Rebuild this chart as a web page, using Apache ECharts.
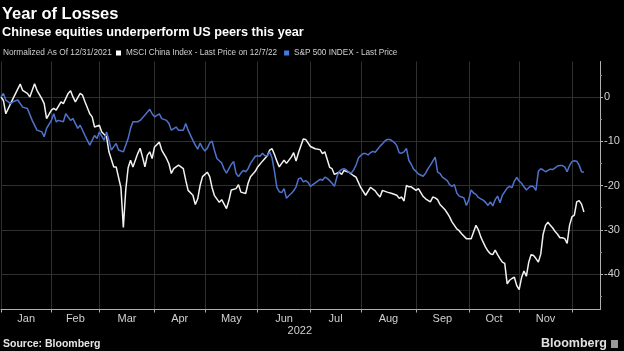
<!DOCTYPE html>
<html>
<head>
<meta charset="utf-8">
<script src="https://cdn.jsdelivr.net/npm/echarts@6/dist/echarts.min.js"></script>
<style>
html, body { margin: 0; padding: 0; background: #000; }
#chart { width: 624px; height: 351px; }
</style>
</head>
<body>
<div id="chart"></div>
<script>
// x = trading day counted from 12/31/2021 (= 0), weekdays only
var chinaDays = [0, 1, 2, 4, 5, 8, 9, 11, 12, 14, 15, 17, 18, 19, 21, 22, 23, 25, 26, 28, 29, 30, 31, 33, 34, 35, 37, 38, 39, 41, 42, 44, 45, 47, 48, 50, 51, 52, 53, 54, 55, 57, 58, 59, 60, 61, 62, 63, 64, 66, 67, 69, 70, 71, 72, 74, 76, 77, 78, 80, 81, 82, 83, 84, 86, 87, 88, 89, 91, 92, 94, 95, 96, 98, 99, 100, 102, 103, 104, 106, 107, 109, 111, 112, 113, 114, 115, 116, 117, 118, 119, 121, 122, 123, 124, 126, 127, 129, 131, 133, 134, 135, 137, 138, 139, 141, 142, 143, 145, 147, 148, 150, 152, 154, 156, 157, 158, 159, 161, 163, 165, 166, 167, 168, 169, 170, 171, 173, 174, 175, 176, 177, 179, 180, 181, 182, 183, 185, 186, 187, 188, 190, 191, 192, 194, 196, 197, 198, 199, 200, 201, 202, 203, 204, 205, 206, 207, 208, 209, 210, 211, 212, 213, 214, 215, 216, 217, 218, 219, 220, 221, 222, 223, 224, 225, 226, 227, 228, 229, 230, 231, 232, 233, 234, 235, 236, 237, 238, 239, 240, 241, 242, 243];
var chinaVals = [0, -0.8, -3.8, -1.5, -0.4, 2.9, 1.5, 0.8, 0, 3.0, 1.5, -0.4, -1.5, -4.9, -3.0, -2.6, -3.0, -1.1, -1.5, 0.8, 1.4, 0, -1.1, 0.8, 0.4, -1.1, -3.8, -4.5, -6.8, -6.4, -7.9, -9.0, -12.4, -15.8, -15.8, -20.5, -29.5, -21.0, -16.0, -14.3, -15.8, -12.8, -11.6, -13.6, -15.8, -13.2, -12.4, -13.9, -11.3, -10.2, -12.0, -13.9, -15.1, -17.3, -16.2, -15.4, -16.2, -18.8, -21.1, -22.2, -24.3, -23.0, -20.0, -18.0, -17.0, -18.0, -20.5, -22.3, -23.8, -23.2, -25.2, -23.4, -21.0, -20.7, -19.8, -21.5, -21.8, -19.5, -18.0, -16.8, -15.8, -14.5, -13.3, -12.0, -11.7, -13.0, -14.5, -15.8, -15.0, -14.3, -15.0, -13.6, -12.6, -14.5, -12.6, -9.5, -9.6, -11.2, -11.7, -11.9, -12.8, -12.4, -15.9, -16.2, -17.5, -17.0, -17.5, -16.6, -17.0, -17.8, -18.1, -20.5, -22.2, -20.4, -21.2, -22.0, -22.6, -21.1, -21.5, -21.8, -22.2, -22.9, -22.6, -23.5, -20.0, -20.3, -20.3, -21.1, -20.7, -21.6, -22.5, -23.0, -23.7, -22.6, -22.8, -23.2, -24.3, -25.4, -26.2, -27.1, -28.2, -29.8, -30.2, -30.9, -32.0, -32.0, -30.5, -29.0, -30.0, -31.6, -32.8, -33.9, -34.8, -35.4, -35.6, -34.6, -35.6, -36.5, -37.3, -37.6, -42.2, -41.4, -41.0, -40.7, -42.6, -43.5, -40.8, -39.3, -40.5, -37.3, -35.6, -35.8, -36.5, -37.3, -35.5, -31.0, -29.0, -28.3, -29.0, -29.6, -30.4, -31.0, -31.8, -31.8, -32.0, -33.1, -29.0, -27.1, -26.7, -23.7, -23.4, -24.2, -26.0];

var spxDays = [0, 1, 2, 4, 5, 7, 9, 11, 13, 15, 17, 18, 19, 21, 22, 23, 24, 26, 27, 29, 30, 32, 33, 35, 36, 37, 39, 40, 41, 43, 44, 45, 46, 48, 49, 51, 53, 54, 55, 57, 58, 60, 62, 63, 64, 66, 67, 69, 70, 71, 73, 74, 76, 77, 78, 80, 81, 82, 83, 84, 85, 86, 87, 88, 89, 90, 91, 92, 93, 94, 95, 96, 97, 98, 99, 100, 101, 102, 103, 104, 105, 106, 107, 108, 109, 110, 111, 112, 113, 114, 115, 116, 117, 118, 119, 120, 121, 122, 123, 124, 125, 126, 127, 128, 129, 130, 131, 133, 134, 135, 136, 137, 138, 139, 140, 141, 142, 143, 144, 145, 146, 147, 148, 149, 150, 151, 152, 153, 154, 155, 156, 157, 158, 159, 160, 161, 162, 163, 164, 165, 166, 167, 168, 169, 170, 171, 172, 173, 174, 176, 177, 178, 179, 180, 181, 182, 183, 184, 186, 187, 188, 189, 190, 191, 192, 193, 194, 195, 196, 197, 198, 199, 200, 201, 202, 203, 204, 205, 206, 207, 208, 209, 210, 211, 212, 213, 214, 215, 216, 217, 218, 219, 220, 221, 222, 223, 224, 225, 226, 227, 228, 229, 230, 231, 232, 233, 234, 235, 236, 237, 238, 239, 240, 241, 242, 243];
var spxVals = [0, 0.8, -0.7, -1.5, -1.1, -0.7, -2.3, -2.6, -5.3, -7.5, -7.9, -9.0, -7.1, -5.3, -3.8, -5.6, -5.3, -5.6, -3.8, -5.3, -4.9, -7.1, -6.4, -8.7, -9.8, -10.9, -8.7, -9.4, -7.9, -9.8, -7.9, -9.8, -12.0, -10.5, -12.0, -12.4, -9.4, -7.1, -5.6, -5.6, -5.3, -4.1, -2.8, -3.8, -4.5, -3.8, -4.9, -5.3, -6.0, -7.5, -6.8, -7.5, -7.5, -6.0, -7.5, -9.8, -10.9, -11.8, -10.4, -11.5, -12.2, -11.6, -10.4, -10.0, -12.1, -13.9, -14.4, -14.9, -16.3, -17.2, -16.2, -15.2, -14.6, -17.3, -18.0, -17.2, -16.6, -16.9, -16.2, -15.0, -14.2, -13.4, -13.3, -13.4, -12.7, -13.3, -13.3, -12.4, -13.8, -16.8, -20.4, -21.4, -21.6, -20.7, -22.9, -22.3, -21.8, -21.2, -20.3, -18.5, -18.3, -19.2, -18.9, -19.3, -20.2, -19.8, -19.4, -18.6, -18.8, -18.1, -18.4, -18.9, -19.5, -20.2, -18.1, -16.8, -16.4, -16.2, -16.5, -17.0, -17.2, -16.5, -15.4, -13.8, -13.2, -12.8, -12.8, -13.1, -12.6, -12.3, -12.5, -11.8, -11.1, -10.6, -10.0, -9.6, -9.6, -9.9, -10.3, -11.0, -12.6, -12.7, -12.4, -11.6, -14.3, -15.2, -16.3, -16.8, -17.4, -17.9, -17.2, -16.2, -15.4, -14.5, -13.6, -17.0, -17.3, -18.1, -18.9, -19.8, -20.2, -19.8, -21.7, -22.4, -22.6, -22.8, -24.5, -23.2, -21.0, -21.7, -22.0, -22.7, -23.0, -23.3, -23.8, -24.5, -23.7, -24.6, -23.2, -22.4, -23.9, -22.2, -21.4, -20.6, -20.2, -20.5, -19.0, -18.2, -19.0, -19.5, -20.3, -21.0, -20.5, -20.1, -20.3, -21.1, -16.8, -16.2, -16.5, -16.9, -16.6, -16.3, -16.4, -16.0, -15.6, -15.5, -15.5, -15.8, -16.9, -15.5, -14.6, -14.4, -14.5, -15.4, -16.9, -17.0];

var monthNames = ['Jan', 'Feb', 'Mar', 'Apr', 'May', 'Jun', 'Jul', 'Aug', 'Sep', 'Oct', 'Nov'];
// last trading day before each month starts
var monthEnds = [0, 21, 41, 64, 85, 107, 129, 150, 173, 195, 216, 238];
var yTicks = [0, -10, -20, -30, -40];
var yMinorTicks = [5, -5, -15, -25, -35, -45];

var monthMid = monthNames.map(function (n, i) {
    return (monthEnds[i] + monthEnds[i + 1]) / 2;
});

var myChart = echarts.init(document.getElementById('chart'));
var font = '"Liberation Sans", Arial, sans-serif';

var option = {
    backgroundColor: '#000',
    animation: false,
    title: [{
        text: 'Year of Losses',
        left: 2,
        top: 6,
        padding: 0,
        textStyle: { color: '#fff', fontSize: 16.5, fontWeight: 'bold', fontFamily: font }
    }, {
        text: 'Chinese equities underperform US peers this year',
        left: 2,
        top: 26,
        padding: 0,
        textStyle: { color: '#fff', fontSize: 12.7, fontWeight: 'bold', fontFamily: font }
    }, {
        text: 'Source: Bloomberg',
        left: 3,
        top: 339,
        padding: 0,
        textStyle: { color: '#e6e6e6', fontSize: 10.5, fontWeight: 'bold', fontFamily: font }
    }],
    legend: {
        left: 116,
        top: 49,
        padding: 0,
        itemGap: 7,
        itemWidth: 5,
        itemHeight: 5,
        icon: 'rect',
        selectedMode: false,
        textStyle: { color: '#d0d0d0', fontSize: 8.2, fontFamily: font },
        data: ['MSCI China Index - Last Price on 12/7/22', 'S&P 500 INDEX - Last Price']
    },
    graphic: [{
        type: 'text',
        left: 3,
        top: 49,
        style: { text: 'Normalized As Of 12/31/2021', fill: '#d0d0d0', fontSize: 8.3, fontFamily: font }
    }, {
        type: 'text',
        x: 312,
        y: 330.5,
        style: { text: '2022', fill: '#d0d0d0', fontSize: 11, fontFamily: font, align: 'right', verticalAlign: 'middle' }
    }, {
        type: 'text',
        x: 607,
        y: 344,
        style: { text: 'Bloomberg', fill: '#e0e0e0', fontSize: 12.5, fontWeight: 'bold', fontFamily: font, align: 'right', verticalAlign: 'middle' }
    }, {
        type: 'rect',
        shape: { x: 611, y: 340, width: 7, height: 8 },
        style: { fill: '#9a9a9a' }
    }],
    grid: {
        left: 1,
        right: 24,
        top: 61.5,
        bottom: 41.5
    },
    xAxis: {
        type: 'value',
        min: 0,
        max: 249.7,
        axisLine: { onZero: false, lineStyle: { color: '#b0b0b0', width: 1 } },
        axisTick: { show: true, length: 3, customValues: monthEnds, lineStyle: { color: '#b0b0b0' } },
        splitLine: { show: true, lineStyle: { color: '#303030', width: 1 } },
        axisLabel: {
            customValues: monthMid,
            margin: 4,
            color: '#d0d0d0',
            fontSize: 11,
            fontFamily: font,
            formatter: function (v) {
                for (var i = 0; i < monthMid.length; i++) {
                    if (Math.abs(monthMid[i] - v) < 0.01) return monthNames[i];
                }
                return '';
            }
        }
    },
    yAxis: [{
        type: 'value',
        position: 'right',
        min: -48,
        max: 8,
        axisLine: { show: true, onZero: false, lineStyle: { color: '#b0b0b0', width: 1 } },
        axisTick: { show: true, length: 3, customValues: yTicks, lineStyle: { color: '#b0b0b0' } },
        splitLine: { show: true, lineStyle: { color: '#303030', width: 1 } },
        axisLabel: { customValues: yTicks, margin: 4, color: '#d0d0d0', fontSize: 11, fontFamily: font }
    }, {
        type: 'value',
        position: 'right',
        min: -48,
        max: 8,
        axisLine: { show: false, onZero: false },
        axisTick: { show: true, length: 2, customValues: yMinorTicks, lineStyle: { color: '#909090' } },
        splitLine: { show: false },
        axisLabel: { show: false }
    }],
    series: [{
        name: 'MSCI China Index - Last Price on 12/7/22',
        type: 'line',
        symbol: 'none',
        itemStyle: { color: '#ffffff' },
        lineStyle: { color: '#f2f2f2', width: 1.5 },
        data: chinaDays.map(function (d, i) { return [d, chinaVals[i]]; })
    }, {
        name: 'S&P 500 INDEX - Last Price',
        type: 'line',
        symbol: 'none',
        itemStyle: { color: '#3f7be0' },
        lineStyle: { color: '#4f73cc', width: 1.5 },
        data: spxDays.map(function (d, i) { return [d, spxVals[i]]; })
    }]
};
myChart.setOption(option);
</script>
</body>
</html>
